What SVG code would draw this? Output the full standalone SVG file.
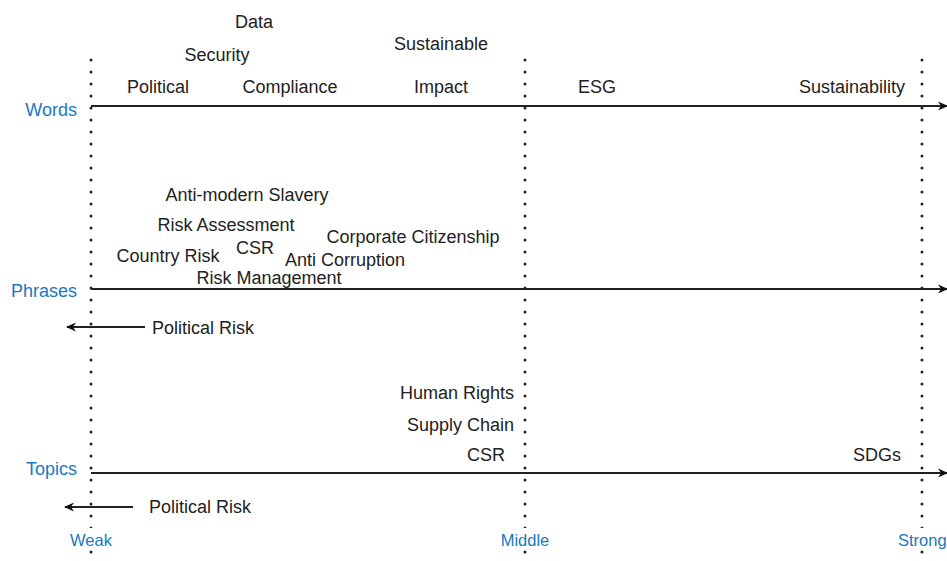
<svg xmlns="http://www.w3.org/2000/svg" width="947" height="561" viewBox="0 0 947 561">
<defs>
<marker id="ah" viewBox="0 0 10 10" refX="9" refY="5" markerWidth="5" markerHeight="5" orient="auto-start-reverse" markerUnits="strokeWidth">
<path d="M0,0.5 L10,5 L0,9.5 L3,5 Z" fill="#111"/>
</marker>
<style>
.t{font-family:"Liberation Sans",Arial,sans-serif;font-size:18px;fill:#222}
.b{font-family:"Liberation Sans",Arial,sans-serif;font-size:18px;fill:#1a78c2}
.s{font-family:"Liberation Sans",Arial,sans-serif;font-size:16.5px;fill:#1a78c2}
.dot{stroke:#222;stroke-width:3;stroke-linecap:round;stroke-dasharray:0 12;fill:none}
.ax{stroke:#222;stroke-width:2;fill:none}
</style>
</defs>
<rect width="947" height="561" fill="#fff"/>
<g id="guides">
<line class="dot" x1="91" y1="60" x2="91" y2="561"/>
<line class="dot" x1="525" y1="60" x2="525" y2="561"/>
<line class="dot" x1="922" y1="60" x2="922" y2="561"/>
</g>
<g id="connectors">
<line class="ax" x1="91" y1="106" x2="947" y2="106" marker-end="url(#ah)"/>
<line class="ax" x1="91" y1="289" x2="947" y2="289" marker-end="url(#ah)"/>
<line class="ax" x1="91" y1="473" x2="947" y2="473" marker-end="url(#ah)"/>
<line class="ax" x1="145" y1="327" x2="67" y2="327" marker-end="url(#ah)"/>
<line class="ax" x1="133" y1="507" x2="65" y2="507" marker-end="url(#ah)"/>
</g>
<g id="axis-labels">
<text class="b" x="77" y="116" text-anchor="end">Words</text>
<text class="b" x="77" y="297" text-anchor="end">Phrases</text>
<text class="b" x="77" y="475" text-anchor="end">Topics</text>
<g id="weak"><rect x="66" y="528" width="51" height="22" fill="#fff"/><text class="s" x="91" y="546" text-anchor="middle">Weak</text></g>
<g id="middle"><rect x="497" y="528" width="56" height="22" fill="#fff"/><text class="s" x="525" y="546" text-anchor="middle">Middle</text></g>
<g id="strong"><rect x="895" y="528" width="52" height="22" fill="#fff"/><text class="s" x="898" y="546">Strong</text></g>
</g>
<g id="words">
<text class="t" x="254" y="28" text-anchor="middle">Data</text>
<text class="t" x="217" y="61" text-anchor="middle">Security</text>
<text class="t" x="158" y="93" text-anchor="middle">Political</text>
<text class="t" x="290" y="93" text-anchor="middle">Compliance</text>
<text class="t" x="441" y="50" text-anchor="middle">Sustainable</text>
<text class="t" x="441" y="93" text-anchor="middle">Impact</text>
<text class="t" x="597" y="93" text-anchor="middle">ESG</text>
<text class="t" x="852" y="93" text-anchor="middle">Sustainability</text>
</g>
<g id="phrases">
<text class="t" x="247" y="201" text-anchor="middle">Anti-modern Slavery</text>
<text class="t" x="226" y="231" text-anchor="middle">Risk Assessment</text>
<text class="t" x="413" y="243" text-anchor="middle">Corporate Citizenship</text>
<text class="t" x="168" y="262" text-anchor="middle">Country Risk</text>
<text class="t" x="255" y="254" text-anchor="middle">CSR</text>
<text class="t" x="345" y="266" text-anchor="middle">Anti Corruption</text>
<text class="t" x="269" y="284" text-anchor="middle">Risk Management</text>
<text class="t" x="152" y="334">Political Risk</text>
</g>
<g id="topics">
<text class="t" x="514" y="399" text-anchor="end">Human Rights</text>
<text class="t" x="514" y="431" text-anchor="end">Supply Chain</text>
<text class="t" x="505" y="461" text-anchor="end">CSR</text>
<text class="t" x="877" y="461" text-anchor="middle">SDGs</text>
<text class="t" x="149" y="513">Political Risk</text>
</g>
</svg>
